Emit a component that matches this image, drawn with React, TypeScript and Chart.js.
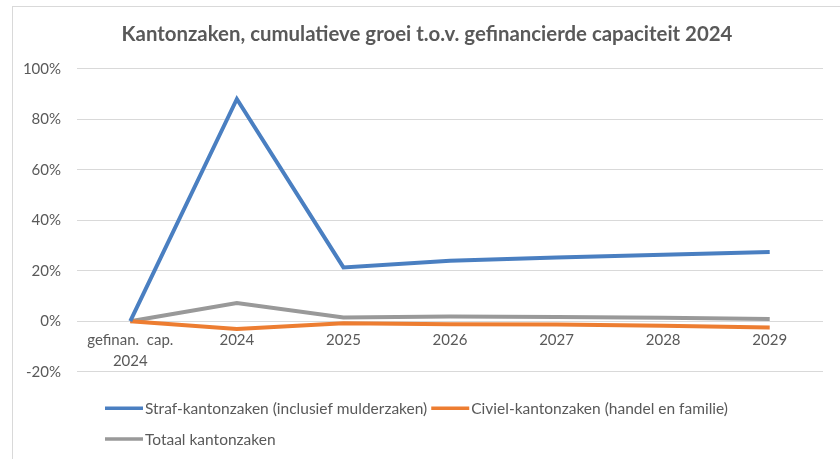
import React, { useEffect, useRef } from 'react';
import { Chart, registerables } from 'chart.js';

Chart.register(...registerables);

const titleText = 'Kantonzaken, cumulatieve groei t.o.v. gefinancierde capaciteit 2024';
const categories: (string | string[])[] = [['gefinan.  cap.', '2024'], '2024', '2025', '2026', '2027', '2028', '2029'];
const seriesLabels = [
  'Straf-kantonzaken (inclusief mulderzaken)',
  'Civiel-kantonzaken (handel en familie)',
  'Totaal kantonzaken',
];
const strafValues = [0, 88.0, 21.3, 23.9, 25.2, 26.3, 27.4];
const civielValues = [0, -3.1, -0.8, -1.2, -1.3, -1.8, -2.5];
const totaalValues = [0, 7.2, 1.5, 1.9, 1.7, 1.4, 0.9];
const seriesColors = ['#4a7fc1', '#ed7d31', '#999999'];
const yMin = -20;
const yMax = 100;
const yStep = 20;

const FONT = 'Lato, "Open Sans", sans-serif';
const TEXT = '#595959';

const frameTitleLegend = {
  id: 'frameTitleLegend',
  beforeDraw(chart: any) {
    const { ctx, width, height } = chart;
    ctx.save();
    ctx.fillStyle = '#ffffff';
    ctx.fillRect(0, 0, width, height);
    ctx.strokeStyle = '#d9d9d9';
    ctx.lineWidth = 1;
    ctx.strokeRect(12.5, 6.5, width + 20, height + 20);
    ctx.restore();
  },
  afterDraw(chart: any) {
    const { ctx, chartArea } = chart;
    ctx.save();
    // title
    ctx.font = `bold 20.4px ${FONT}`;
    ctx.fillStyle = TEXT;
    ctx.textAlign = 'center';
    ctx.textBaseline = 'middle';
    ctx.fillText(titleText, 427, 34);
    // legend
    ctx.font = `15.5px ${FONT}`;
    ctx.textBaseline = 'middle';
    ctx.textAlign = 'left';
    const startX = 105;
    const maxX = 770;
    const lineLen = 38;
    const gap = 2;
    const itemGap = 4;
    const rowH = 30.7;
    let x = startX;
    let y = chartArea.bottom + 36.6;
    chart.data.datasets.forEach((ds: any) => {
      const w = lineLen + gap + ctx.measureText(ds.label).width;
      if (x + w > maxX && x !== startX) {
        x = startX;
        y += rowH;
      }
      ctx.strokeStyle = ds.borderColor;
      ctx.lineWidth = 3.5;
      ctx.beginPath();
      ctx.moveTo(x, y);
      ctx.lineTo(x + lineLen, y);
      ctx.stroke();
      ctx.fillStyle = TEXT;
      ctx.fillText(ds.label, x + lineLen + gap, y + 1);
      x += w + itemGap;
    });
    ctx.restore();
  },
};

export default function App() {
  const ref = useRef<HTMLCanvasElement | null>(null);
  useEffect(() => {
    if (!ref.current) return;
    const values = [strafValues, civielValues, totaalValues];
    const chart = new Chart(ref.current, {
      type: 'line',
      data: {
        labels: categories,
        datasets: seriesLabels.map((label, i) => ({
          label,
          data: values[i],
          borderColor: seriesColors[i],
          backgroundColor: seriesColors[i],
          borderWidth: 4,
          pointRadius: 0,
          tension: 0,
          fill: false,
        })),
      },
      options: {
        responsive: false,
        animation: false,
        layout: { padding: { top: 68.7, left: 12, right: 17, bottom: 87.3 } },
        plugins: {
          legend: { display: false },
          tooltip: { enabled: false },
          title: { display: false },
        },
        scales: {
          x: {
            type: 'category',
            offset: true,
            position: { y: 0 } as any,
            grid: { display: false },
            border: { display: false },
            ticks: {
              color: TEXT,
              font: { family: FONT, size: 15, lineHeight: 1.4 },
              padding: 0,
              maxRotation: 0,
              autoSkip: false,
            },
            afterFit: (s: any) => { s.height = 0; },
          },
          y: {
            min: yMin,
            max: yMax,
            ticks: {
              stepSize: yStep,
              color: TEXT,
              font: { family: FONT, size: 15 },
              padding: 16,
              callback: (v: any) => `${v}%`,
            },
            grid: { color: '#d9d9d9', lineWidth: 1, drawTicks: false },
            border: { display: false },
            afterFit: (s: any) => { s.width = 65; },
          },
        },
      },
      plugins: [frameTitleLegend],
    });
    return () => chart.destroy();
  }, []);
  return (
    <div style={{ position: 'fixed', left: 0, top: 0, width: 840, height: 459, background: '#fff' }}>
      <canvas ref={ref} width={840} height={459} style={{ display: 'block' }} />
    </div>
  );
}
